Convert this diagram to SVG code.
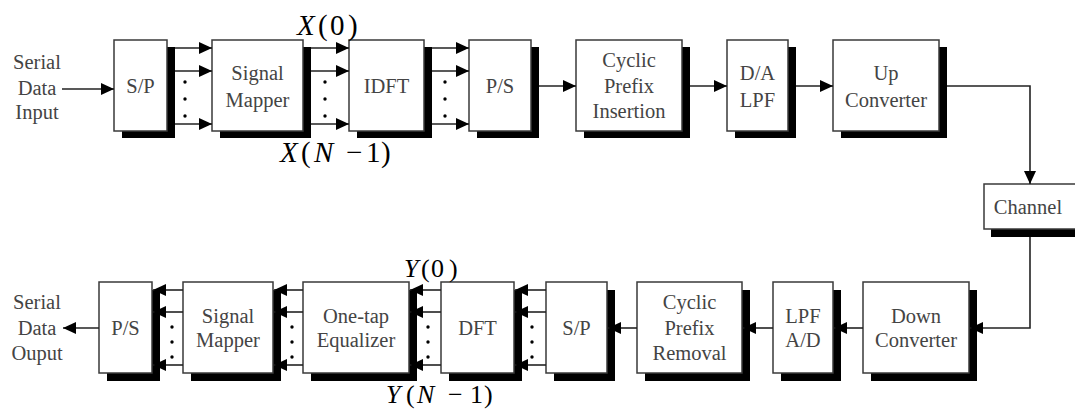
<svg xmlns="http://www.w3.org/2000/svg" width="1075" height="410" viewBox="0 0 1075 410">
<style>
.box{fill:#fff;stroke:#3a3a3a;stroke-width:1.5}
.sh{fill:#000}
.t{font-family:"Liberation Serif",serif;font-size:20.5px;fill:#444;text-anchor:middle;dominant-baseline:central}
.m{font-family:"Liberation Serif",serif;fill:#000}
.c{fill:none;stroke:#222;stroke-width:1.6}
.a{marker-end:url(#ah)}
.d{fill:#000}
</style>
<defs>
<marker id="ah" markerUnits="userSpaceOnUse" markerWidth="13" markerHeight="12" refX="13" refY="6" orient="auto">
<path d="M0,0 L13,6 L0,12 z" fill="#000"/>
</marker>
</defs>
<rect width="1075" height="410" fill="#fff"/>

<!-- top row -->
<g id="in-label"><text class="t" x="37" y="62">Serial</text><text class="t" x="37" y="88">Data</text><text class="t" x="37" y="112">Input</text></g>
<g id="sp1"><rect class="sh" x="122" y="47" width="53" height="91"/><rect class="box" x="114" y="40" width="53" height="91"/><text class="t" x="140.5" y="86">S/P</text></g>
<g id="mapper1"><rect class="sh" x="220" y="47" width="91" height="91"/><rect class="box" x="212" y="40" width="91" height="91"/><text class="t" x="257.5" y="73">Signal</text><text class="t" x="257.5" y="100">Mapper</text></g>
<g id="idft"><rect class="sh" x="357" y="47" width="75" height="91"/><rect class="box" x="349" y="40" width="75" height="91"/><text class="t" x="386.5" y="86">IDFT</text></g>
<g id="ps1"><rect class="sh" x="477" y="47" width="62" height="91"/><rect class="box" x="469" y="40" width="62" height="91"/><text class="t" x="500" y="86">P/S</text></g>
<g id="cpi"><rect class="sh" x="584" y="47" width="106" height="91"/><rect class="box" x="576" y="40" width="106" height="91"/><text class="t" x="629" y="60">Cyclic</text><text class="t" x="629" y="86">Prefix</text><text class="t" x="629" y="111">Insertion</text></g>
<g id="da"><rect class="sh" x="735" y="47" width="61" height="91"/><rect class="box" x="727" y="40" width="61" height="91"/><text class="t" x="757.5" y="73">D/A</text><text class="t" x="757.5" y="100">LPF</text></g>
<g id="up"><rect class="sh" x="841" y="47" width="106" height="91"/><rect class="box" x="833" y="40" width="106" height="91"/><text class="t" x="886" y="73">Up</text><text class="t" x="886" y="100">Converter</text></g>
<g id="channel"><rect class="sh" x="991" y="191" width="95" height="46"/><rect class="box" x="984" y="184" width="95" height="45"/><text class="t" x="1028" y="207">Channel</text></g>

<!-- bottom row -->
<g id="out-label"><text class="t" x="37" y="302">Serial</text><text class="t" x="37" y="328">Data</text><text class="t" x="37" y="353">Ouput</text></g>
<g id="ps2"><rect class="sh" x="107" y="290" width="53" height="91"/><rect class="box" x="99" y="282" width="53" height="91"/><text class="t" x="125.5" y="328">P/S</text></g>
<g id="mapper2"><rect class="sh" x="191" y="290" width="90" height="91"/><rect class="box" x="183" y="282" width="90" height="91"/><text class="t" x="228" y="316">Signal</text><text class="t" x="228" y="340">Mapper</text></g>
<g id="eq"><rect class="sh" x="311" y="290" width="106" height="91"/><rect class="box" x="303" y="282" width="106" height="91"/><text class="t" x="356" y="316">One-tap</text><text class="t" x="356" y="340">Equalizer</text></g>
<g id="dft"><rect class="sh" x="449" y="290" width="73" height="91"/><rect class="box" x="441" y="282" width="73" height="91"/><text class="t" x="477.5" y="328">DFT</text></g>
<g id="sp2"><rect class="sh" x="554" y="290" width="61" height="91"/><rect class="box" x="546" y="282" width="61" height="91"/><text class="t" x="576.5" y="328">S/P</text></g>
<g id="cpr"><rect class="sh" x="645" y="290" width="105" height="91"/><rect class="box" x="637" y="282" width="105" height="91"/><text class="t" x="689.5" y="302">Cyclic</text><text class="t" x="689.5" y="328">Prefix</text><text class="t" x="689.5" y="353">Removal</text></g>
<g id="ad"><rect class="sh" x="781" y="290" width="60" height="91"/><rect class="box" x="773" y="282" width="60" height="91"/><text class="t" x="803" y="316">LPF</text><text class="t" x="803" y="340">A/D</text></g>
<g id="down"><rect class="sh" x="871" y="290" width="106" height="91"/><rect class="box" x="863" y="282" width="106" height="91"/><text class="t" x="916" y="316">Down</text><text class="t" x="916" y="340">Converter</text></g>

<!-- math labels -->
<g id="labels">
<text class="m" y="35" font-size="29"><tspan x="297" font-style="italic">X</tspan><tspan x="318">(</tspan><tspan x="330">0</tspan><tspan x="348">)</tspan></text>
<text class="m" y="162" font-size="29"><tspan x="280" font-style="italic">X</tspan><tspan x="301">(</tspan><tspan x="314" font-style="italic">N</tspan><tspan x="346">−</tspan><tspan x="366">1</tspan><tspan x="381">)</tspan></text>
<text class="m" y="277" font-size="26"><tspan x="404" font-style="italic">Y</tspan><tspan x="421">(</tspan><tspan x="431">0</tspan><tspan x="449">)</tspan></text>
<text class="m" y="403" font-size="26"><tspan x="386" font-style="italic">Y</tspan><tspan x="406">(</tspan><tspan x="417" font-style="italic">N</tspan><tspan x="448">−</tspan><tspan x="470">1</tspan><tspan x="484">)</tspan></text>
</g>

<g id="connectors">
<path class="c a" d="M62,89 H114"/>
<path class="c a" d="M175,48 H212"/><path class="c a" d="M175,71 H212"/><path class="c a" d="M175,124 H212"/>
<path class="c a" d="M311,48 H349"/><path class="c a" d="M311,71 H349"/><path class="c a" d="M311,124 H349"/>
<path class="c a" d="M432,48 H469"/><path class="c a" d="M432,71 H469"/><path class="c a" d="M432,124 H469"/>
<path class="c a" d="M539,86 H576"/>
<path class="c a" d="M690,86 H727"/>
<path class="c a" d="M796,86 H833"/>
<path class="c a" d="M947,86 H1030 V184"/>
<path class="c a" d="M1030,237 V328 H970"/>
<path class="c a" d="M863,328 H834"/>
<path class="c a" d="M773,328 H743"/>
<path class="c a" d="M637,328 H608"/>
<path class="c a" d="M546,290 H515"/><path class="c a" d="M546,312 H515"/><path class="c a" d="M546,365 H515"/>
<path class="c a" d="M441,290 H410"/><path class="c a" d="M441,312 H410"/><path class="c a" d="M441,365 H410"/>
<path class="c a" d="M303,290 H274"/><path class="c a" d="M303,312 H274"/><path class="c a" d="M303,365 H274"/>
<path class="c a" d="M183,290 H153"/><path class="c a" d="M183,312 H153"/><path class="c a" d="M183,365 H153"/>
<path class="c a" d="M99,328 H63"/>
<g class="d">
<circle cx="185" cy="82" r="1.7"/><circle cx="185" cy="99" r="1.7"/><circle cx="185" cy="116" r="1.7"/>
<circle cx="325" cy="82" r="1.7"/><circle cx="325" cy="99" r="1.7"/><circle cx="325" cy="116" r="1.7"/>
<circle cx="445" cy="82" r="1.7"/><circle cx="445" cy="99" r="1.7"/><circle cx="445" cy="116" r="1.7"/>
<circle cx="532" cy="327" r="1.7"/><circle cx="532" cy="342" r="1.7"/><circle cx="532" cy="357" r="1.7"/>
<circle cx="428" cy="327" r="1.7"/><circle cx="428" cy="342" r="1.7"/><circle cx="428" cy="357" r="1.7"/>
<circle cx="292" cy="327" r="1.7"/><circle cx="292" cy="342" r="1.7"/><circle cx="292" cy="357" r="1.7"/>
<circle cx="172" cy="327" r="1.7"/><circle cx="172" cy="342" r="1.7"/><circle cx="172" cy="357" r="1.7"/>
</g>
</g>
</svg>
